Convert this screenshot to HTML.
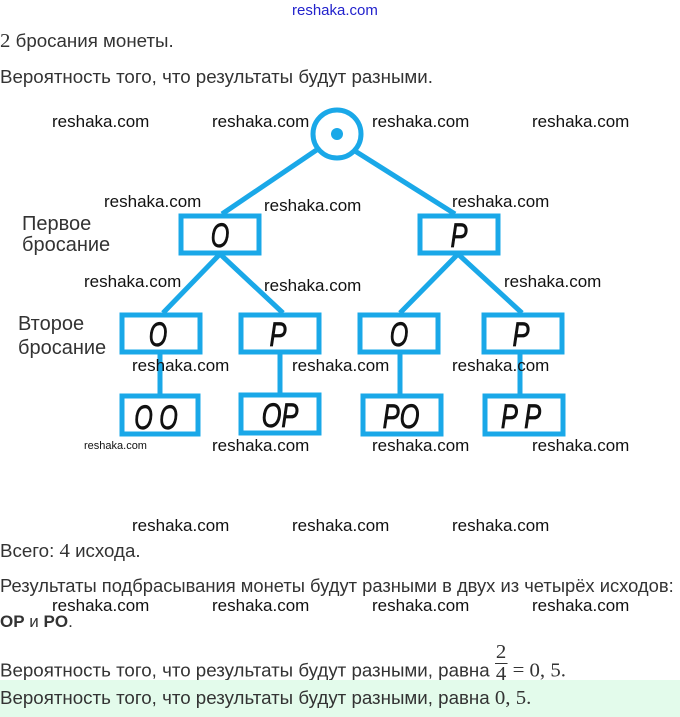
<!DOCTYPE html>
<html><head><meta charset="utf-8"><style>
body{margin:0;width:680px;height:717px;background:#fff;position:relative;overflow:hidden;font-family:"Liberation Sans",sans-serif;}
.t{position:absolute;left:0;font-size:18px;color:#333;white-space:nowrap;transform-origin:0 0;transform:scaleX(1.04);}
.w{position:absolute;font-family:"Liberation Sans",sans-serif;font-size:17px;color:#111;white-space:nowrap;}
.m{font-family:"Liberation Serif",serif;font-size:20px;}
</style></head><body>
<div style="position:absolute;left:292px;top:2px;font-size:15px;color:#2222cc">reshaka.com</div>
<div class="t" style="top:30px"><span class="m">2</span> бросания монеты.</div>
<div class="t" style="top:67px">Вероятность того, что результаты будут разными.</div>
<svg width="680" height="460" style="position:absolute;left:0;top:0" font-family="Liberation Sans, sans-serif">
<g stroke="#1aa8e8" stroke-width="5" fill="none">
<circle cx="337" cy="134" r="24"/>
<line x1="318" y1="149" x2="222" y2="214"/>
<line x1="355" y1="151" x2="455" y2="214"/>
<line x1="220" y1="254" x2="163" y2="313"/>
<line x1="220" y1="254" x2="283" y2="313"/>
<line x1="458" y1="254" x2="400" y2="313"/>
<line x1="458" y1="254" x2="522" y2="313"/>
<line x1="160" y1="353" x2="160" y2="395"/>
<line x1="280" y1="353" x2="280" y2="395"/>
<line x1="400" y1="353" x2="400" y2="395"/>
<line x1="520" y1="353" x2="520" y2="395"/>
<rect x="181" y="216" width="78" height="37"/>
<rect x="420" y="216" width="78" height="37"/>
<rect x="122" y="315" width="78" height="37"/>
<rect x="241" y="315" width="78" height="37"/>
<rect x="360" y="315" width="78" height="37"/>
<rect x="484" y="315" width="78" height="37"/>
<rect x="122" y="396" width="76" height="38"/>
<rect x="241" y="395" width="78" height="38"/>
<rect x="363" y="396" width="78" height="38"/>
<rect x="485" y="396" width="78" height="38"/>
</g>
<circle cx="337" cy="134" r="6" fill="#1aa8e8"/>
<g font-size="34" font-style="italic" text-anchor="middle" fill="#111" stroke="#111" stroke-width="0.8">
<text transform="translate(220,247) scale(0.7,1)">O</text><text transform="translate(459,247) scale(0.75,1)">P</text>
<text transform="translate(158,346) scale(0.7,1)">O</text><text transform="translate(278,346) scale(0.75,1)">P</text><text transform="translate(399,346) scale(0.7,1)">O</text><text transform="translate(521,346) scale(0.75,1)">P</text>
<text transform="translate(156,429) scale(0.7,1)">O O</text><text transform="translate(280,427) scale(0.75,1)">OP</text><text transform="translate(401,428) scale(0.75,1)">PO</text><text transform="translate(521,428) scale(0.75,1)">P P</text>
</g>
<g font-size="20" fill="#333">
<text x="22" y="230">Первое</text><text x="22" y="251">бросание</text>
<text x="18" y="330">Второе</text><text x="18" y="354">бросание</text>
</g>
</svg>
<div class="w" style="left:52px;top:112px">reshaka.com</div>
<div class="w" style="left:212px;top:112px">reshaka.com</div>
<div class="w" style="left:372px;top:112px">reshaka.com</div>
<div class="w" style="left:532px;top:112px">reshaka.com</div>
<div class="w" style="left:104px;top:192px">reshaka.com</div>
<div class="w" style="left:264px;top:196px">reshaka.com</div>
<div class="w" style="left:452px;top:192px">reshaka.com</div>
<div class="w" style="left:84px;top:272px">reshaka.com</div>
<div class="w" style="left:264px;top:276px">reshaka.com</div>
<div class="w" style="left:504px;top:272px">reshaka.com</div>
<div class="w" style="left:132px;top:356px">reshaka.com</div>
<div class="w" style="left:292px;top:356px">reshaka.com</div>
<div class="w" style="left:452px;top:356px">reshaka.com</div>
<div class="w" style="left:84px;top:440px;font-size:11px">reshaka.com</div>
<div class="w" style="left:212px;top:436px">reshaka.com</div>
<div class="w" style="left:372px;top:436px">reshaka.com</div>
<div class="w" style="left:532px;top:436px">reshaka.com</div>
<div class="w" style="left:132px;top:516px">reshaka.com</div>
<div class="w" style="left:292px;top:516px">reshaka.com</div>
<div class="w" style="left:452px;top:516px">reshaka.com</div>
<div class="t" style="top:540px">Всего: <span class="m">4</span> исхода.</div>
<div class="t" style="top:576px;transform:scaleX(1.02)">Результаты подбрасывания монеты будут разными в двух из четырёх исходов:</div>
<div class="w" style="left:52px;top:596px">reshaka.com</div>
<div class="w" style="left:212px;top:596px">reshaka.com</div>
<div class="w" style="left:372px;top:596px">reshaka.com</div>
<div class="w" style="left:532px;top:596px">reshaka.com</div>
<div class="t" style="top:612px;font-size:17px;transform:none"><b>OP</b> и <b>PO</b>.</div>
<div class="t" style="top:650px">Вероятность того, что результаты будут разными, равна <span class="m" style="display:inline-block;vertical-align:middle;text-align:center;line-height:21px;position:relative;top:-8px"><span style="display:block;border-bottom:1px solid #333;padding:0 1px">2</span><span style="display:block">4</span></span> <span class="m">= 0, 5.</span></div>
<div style="position:absolute;left:0;top:680px;width:680px;height:37px;background:#e3fbeb"></div>
<div class="t" style="top:687px">Вероятность того, что результаты будут разными, равна <span class="m">0, 5.</span></div>
</body></html>
